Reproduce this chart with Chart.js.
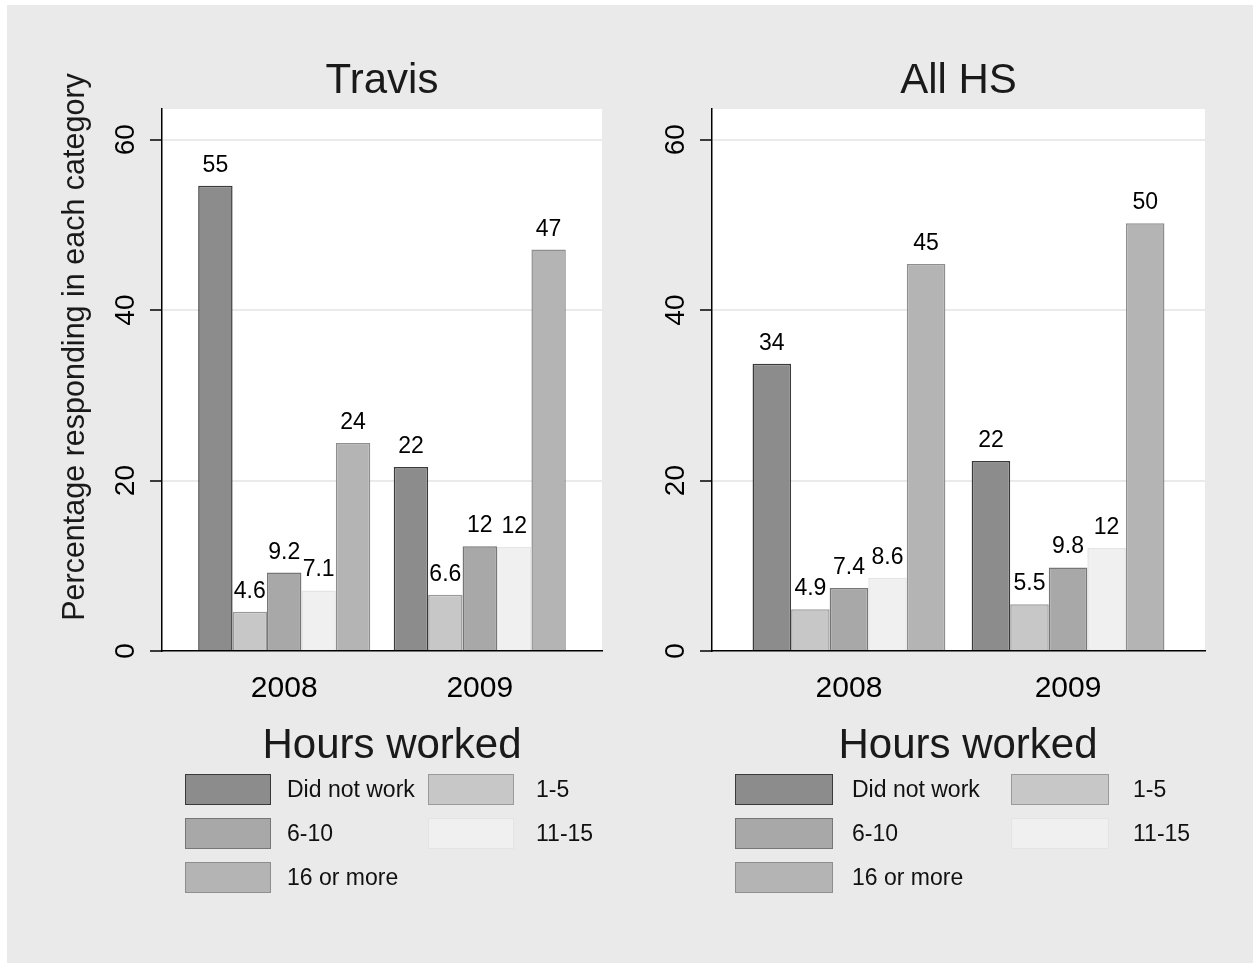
<!DOCTYPE html>
<html lang="en">
<head>
<meta charset="UTF-8">
<title>Hours worked - Travis and All HS</title>
<style>
    html, body { margin: 0; padding: 0; background: #fff; }
    body {
        width: 1253px; height: 963px; position: relative; overflow: hidden;
        font-family: "Liberation Sans", Arial, sans-serif; color: #1a1a1a;
    }
    .sheet { position: absolute; left: 7px; top: 5px; right: 0; bottom: 0; background: #eaeaea; }
    .panel { position: absolute; top: 0; height: 958px; }
    .panel canvas { position: absolute; left: 0; top: 0; }
    .legend-title {
        position: absolute; top: 718px; width: 400px; text-align: center;
        font-size: 42px; line-height: 42px; white-space: nowrap;
    }
    .legend-box { position: absolute; height: 31px; box-sizing: border-box; border: 1.5px solid; }
    .legend-label { position: absolute; font-size: 23px; line-height: 31px; white-space: nowrap; color: #111; }
</style>
</head>
<body>
<div class="sheet">
    <div class="panel" id="panel-travis" style="left:0;width:620px;">
        <canvas id="chart-travis" width="620" height="958"></canvas>
    </div>
    <div class="panel" id="panel-allhs" style="left:620px;width:626px;">
        <canvas id="chart-allhs" width="626" height="958"></canvas>
    </div>
</div>

<script src="https://cdn.jsdelivr.net/npm/chart.js@4.4.1/dist/chart.umd.min.js"></script>
<script>
    // Categories and series (percent responding)
    const years = ['2008', '2009'];
    const hourGroups = ['Did not work', '1-5', '6-10', '11-15', '16 or more'];
    const yTicks = [0, 20, 40, 60];

    // Travis, one array per hours group: [2008, 2009]
    const travisDidNotWork = [54.6, 21.6];
    const travis1to5 = [4.6, 6.6];
    const travis6to10 = [9.2, 12.3];
    const travis11to15 = [7.1, 12.2];
    const travis16plus = [24.4, 47.1];

    // All high schools
    const allDidNotWork = [33.7, 22.3];
    const all1to5 = [4.9, 5.5];
    const all6to10 = [7.4, 9.8];
    const all11to15 = [8.6, 12.1];
    const all16plus = [45.4, 50.2];

    const fills = ['#8c8c8c', '#c7c7c7', '#a8a8a8', '#f0f0f0', '#b4b4b4'];
    const borders = ['#3a3a3a', '#9a9a9a', '#767676', '#e4e4e4', '#8e8e8e'];

    const FONT = '"Liberation Sans", Arial, sans-serif';
    Chart.defaults.font.family = FONT;
    Chart.defaults.color = '#1a1a1a';

    // Stata style labels: two significant digits
    function fmt(v) {
        return String(Number(v.toPrecision(2)));
    }

    // White plot region on the grey page
    const plotBackground = {
        id: 'plotBackground',
        beforeDraw(chart) {
            const { ctx, chartArea: a } = chart;
            ctx.save();
            ctx.fillStyle = '#ffffff';
            ctx.fillRect(a.left, a.top, a.right - a.left, a.bottom - a.top);
            ctx.restore();
        }
    };

    // Value printed above every bar
    const barLabels = {
        id: 'barLabels',
        afterDatasetsDraw(chart) {
            const ctx = chart.ctx;
            ctx.save();
            ctx.font = '23px ' + FONT;
            ctx.fillStyle = '#000';
            ctx.textAlign = 'center';
            ctx.textBaseline = 'alphabetic';
            chart.data.datasets.forEach((ds, i) => {
                chart.getDatasetMeta(i).data.forEach((bar, j) => {
                    ctx.fillText(fmt(ds.data[j].y), bar.x, bar.y - 14);
                });
            });
            ctx.restore();
        }
    };

    // Rotated y title (Stata centres it on the graph region, not the plot)
    const sideTitle = {
        id: 'sideTitle',
        afterDraw(chart, args, opts) {
            if (!opts.text) return;
            const ctx = chart.ctx;
            ctx.save();
            ctx.translate(opts.x, opts.y);
            ctx.rotate(-Math.PI / 2);
            ctx.font = opts.size + 'px ' + FONT;
            ctx.fillStyle = '#1a1a1a';
            ctx.textAlign = 'center';
            ctx.textBaseline = 'middle';
            ctx.fillText(opts.text, 0, 0);
            ctx.restore();
        }
    };

    function makeChart(canvasId, title, series, layout) {
        const datasets = hourGroups.map((name, k) => ({
            label: name,
            data: years.map((yr, i) => ({ x: i, y: series[k][i] })),
            backgroundColor: fills[k],
            borderColor: borders[k],
            borderWidth: 1.5,
            categoryPercentage: 0.88,
            barPercentage: 1
        }));

        return new Chart(document.getElementById(canvasId), {
            type: 'bar',
            data: { datasets },
            plugins: [plotBackground, barLabels, sideTitle],
            options: {
                responsive: false,
                animation: false,
                layout: { padding: { top: 55, left: 0, right: layout.padRight, bottom: 0 } },
                plugins: {
                    legend: { display: false },
                    tooltip: { enabled: false },
                    title: {
                        display: true,
                        text: title,
                        fullSize: false,
                        color: '#1a1a1a',
                        font: { size: 42, weight: 'normal', lineHeight: 1 },
                        padding: { top: 0, bottom: 7 }
                    },
                    sideTitle: layout.yTitle
                },
                scales: {
                    x: {
                        type: 'linear',
                        offset: false,
                        min: -0.625,
                        max: years.length - 1 + 0.625,
                        afterBuildTicks: s => { s.ticks = years.map((yr, i) => ({ value: i })); },
                        afterFit: s => { s.height = 312; },
                        grid: { display: false, offset: false },
                        border: { display: true, color: '#000', width: 1.5 },
                        ticks: {
                            callback: v => years[v],
                            color: '#000',
                            padding: 12,
                            maxRotation: 0,
                            autoSkip: false,
                            font: { size: 30 }
                        }
                    },
                    y: {
                        min: 0,
                        max: 63.6,
                        afterBuildTicks: s => { s.ticks = yTicks.map(v => ({ value: v })); },
                        afterFit: s => { s.width = layout.yWidth; },
                        grid: {
                            color: '#eaeaea',
                            lineWidth: 2,
                            tickColor: '#000',
                            tickWidth: 1.5,
                            tickLength: 12
                        },
                        border: { display: true, color: '#000', width: 1.5 },
                        ticks: {
                            color: '#000',
                            minRotation: 90,
                            maxRotation: 90,
                            crossAlign: 'center',
                            padding: 8,
                            font: { size: 28 }
                        }
                    }
                }
            }
        });
    }

    // Legend drawn as plain page text under each panel
    function makeLegend(panelId, layout) {
        const panel = document.getElementById(panelId);
        const head = document.createElement('div');
        head.className = 'legend-title';
        head.textContent = 'Hours worked';
        head.style.left = (layout.titleCenter - 200) + 'px';
        panel.appendChild(head);

        const rows = [769, 813, 857];
        hourGroups.forEach((name, k) => {
            const col = layout.cols[k % 2];
            const top = rows[Math.floor(k / 2)];

            const box = document.createElement('div');
            box.className = 'legend-box';
            box.style.left = col[0] + 'px';
            box.style.top = top + 'px';
            box.style.width = layout.boxWidth + 'px';
            box.style.background = fills[k];
            box.style.borderColor = borders[k];
            panel.appendChild(box);

            const label = document.createElement('div');
            label.className = 'legend-label';
            label.style.left = col[1] + 'px';
            label.style.top = top + 'px';
            label.textContent = name;
            panel.appendChild(label);
        });
    }

    makeChart('chart-travis', 'Travis',
        [travisDidNotWork, travis1to5, travis6to10, travis11to15, travis16plus],
        {
            padRight: 25,
            yWidth: 155,
            yTitle: { text: 'Percentage responding in each category', x: 69, y: 342, size: 30.5 }
        });

    makeChart('chart-allhs', 'All HS',
        [allDidNotWork, all1to5, all6to10, all11to15, all16plus],
        { padRight: 48, yWidth: 85, yTitle: {} });

    makeLegend('panel-travis', { titleCenter: 385, boxWidth: 86, cols: [[178, 280], [421, 529]] });
    makeLegend('panel-allhs', { titleCenter: 341, boxWidth: 98, cols: [[108, 225], [384, 506]] });
</script>
</body>
</html>
